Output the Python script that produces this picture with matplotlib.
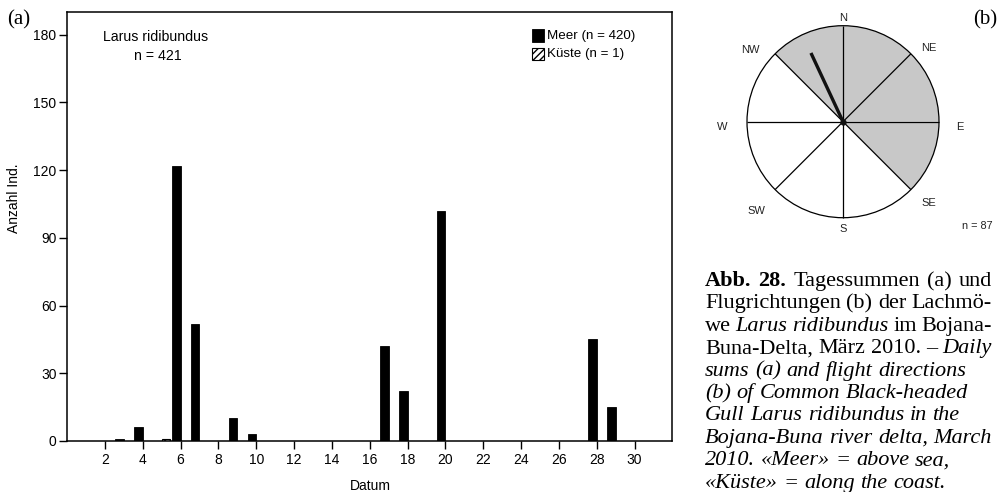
import numpy as np
import matplotlib
matplotlib.use('Agg')
import matplotlib.pyplot as plt
from matplotlib.patches import Rectangle, Wedge, Circle

W, H = 1004, 492

# ---- data (a) ----
days_meer = [3, 4, 6, 7, 9, 10, 17, 18, 20, 28, 29]
count_meer = [1, 6, 122, 52, 10, 3, 42, 22, 102, 45, 15]
days_kueste = [5]
count_kueste = [1]
xticks = list(range(2, 31, 2))
yticks = [0, 30, 60, 90, 120, 150, 180]
legend_labels = ['Meer (n = 420)', 'Küste (n = 1)']

# ---- data (b) ----
sector_labels = ['N', 'NE', 'E', 'SE', 'S', 'SW', 'W', 'NW']
sector_start = [0, 45, 90, 135, 180, 225, 270, 315]     # bearing (deg)
sector_shaded = [True, True, True, False, False, False, False, True]
mean_bearing = 335
mean_length = 0.79
n_dir = 87

SANS = 'Liberation Sans'
SERIF = 'Liberation Serif'

fig = plt.figure(figsize=(W / 100, H / 100), dpi=100)


def fx(px):
    return px / W


def fy(py):
    return 1 - py / H


# ================= panel (a) =================
ax = fig.add_axes([fx(67), fy(441), fx(672.5) - fx(67), fy(12) - fy(441)])
bw = 0.45
ax.bar(np.array(days_meer) - bw / 2, count_meer, width=bw, color='black',
       edgecolor='black', linewidth=0.6)
ax.bar(np.array(days_kueste) + bw / 2, count_kueste, width=bw, color='white',
       edgecolor='black', linewidth=0.8, hatch='//////')
ax.set_xlim(0, 32)
ax.set_ylim(0, 190)
ax.set_xticks(xticks)
ax.set_xticklabels([str(t) for t in xticks])
ax.set_yticks(yticks)
ax.set_yticklabels([str(t) for t in yticks])
ax.tick_params(axis='both', direction='out', length=6, width=1.0,
               labelsize=10, pad=1.5, colors='black')
ax.tick_params(axis='x', pad=2.5)
for lab in ax.get_xticklabels() + ax.get_yticklabels():
    lab.set_family(SANS)
for s in ax.spines.values():
    s.set_linewidth(1.1)

fig.text(fx(14), fy(198), 'Anzahl Ind.', rotation=90, ha='center',
         va='center', family=SANS, fontsize=10)
fig.text(fx(370), fy(486), 'Datum', ha='center', va='center', family=SANS,
         fontsize=10)
fig.text(fx(156), fy(37), 'Larus ridibundus', ha='center', va='center',
         family=SANS, fontsize=10.2)
fig.text(fx(158), fy(55.7), 'n = 421', ha='center', va='center',
         family=SANS, fontsize=10.2)

# legend (manual)
sq = 12
fig.patches.append(Rectangle((fx(532), fy(41.5)), sq / W, sq / H,
                             transform=fig.transFigure, facecolor='black',
                             edgecolor='black', linewidth=0.6))
fig.patches.append(Rectangle((fx(532), fy(60)), sq / W, sq / H,
                             transform=fig.transFigure, facecolor='white',
                             edgecolor='black', linewidth=0.8,
                             hatch='/////'))
fig.text(fx(547), fy(35.5), legend_labels[0], ha='left', va='center',
         family=SANS, fontsize=9.6)
fig.text(fx(547), fy(54.3), legend_labels[1], ha='left', va='center',
         family=SANS, fontsize=9.6)

fig.text(fx(7), fy(24), '(a)', ha='left', va='baseline', family=SERIF,
         fontsize=15)

# ================= panel (b) =================
cx, cy, R = 843, 121.7, 96
half = 130
axr = fig.add_axes([fx(cx - half), fy(cy + half), 2 * half / W, 2 * half / H])
L = half / R
axr.set_xlim(-L, L)
axr.set_ylim(-L, L)
axr.set_aspect('equal')
axr.axis('off')

for s, shaded in zip(sector_start, sector_shaded):
    th1 = 90 - s - 45
    th2 = 90 - s
    axr.add_patch(Wedge((0, 0), 1.0, th1, th2,
                        facecolor='#c8c8c8' if shaded else 'white',
                        edgecolor='none'))
for s in sector_start:
    a = np.deg2rad(90 - s)
    axr.plot([0, np.cos(a)], [0, np.sin(a)], color='black', lw=0.9,
             solid_capstyle='butt')
axr.add_patch(Circle((0, 0), 1.0, facecolor='none', edgecolor='black',
                     lw=0.9))
a = np.deg2rad(90 - mean_bearing)
axr.plot([0, mean_length * np.cos(a)], [0, mean_length * np.sin(a)],
         color='#111111', lw=2.4, solid_capstyle='butt')
axr.plot([0], [0], marker='o', ms=3.5, color='#111111')

label_pos = {'N': (0, 1.077), 'NE': (0.889, 0.771), 'E': (1.222, -0.052),
             'SE': (0.899, -0.847), 'S': (0, -1.118), 'SW': (-0.902, -0.927),
             'W': (-1.256, -0.058), 'NW': (-0.961, 0.747)}
for lab in sector_labels:
    px, py = label_pos[lab]
    axr.text(px, py, lab, ha='center', va='center', family=SANS,
             fontsize=8, color='#222222', clip_on=False)

fig.text(fx(977), fy(226), 'n = %d' % n_dir, ha='center', va='center',
         family=SANS, fontsize=7.8, color='#222222')
fig.text(fx(997), fy(24), '(b)', ha='right', va='baseline', family=SERIF,
         fontsize=15)

# ================= caption =================
renderer = fig.canvas.get_renderer()
CAP = 16


def mk(txt, st, x, base):
    return fig.text(fx(x), fy(base), txt, family=SERIF, fontsize=CAP,
                    fontstyle='italic' if st == 'i' else 'normal',
                    fontweight='bold' if st == 'b' else 'normal',
                    va='baseline', ha='left')


tmp1 = mk('a a', 'r', 0, 0)
tmp2 = mk('aa', 'r', 0, 0)
space = (tmp1.get_window_extent(renderer).width -
         tmp2.get_window_extent(renderer).width)
tmp1.remove()
tmp2.remove()

caption = [
    ([('Abb.', 'b'), ('28.', 'b'), ('Tagessummen', 'r'), ('(a)', 'r'),
      ('und', 'r')], True),
    ([('Flugrichtungen', 'r'), ('(b)', 'r'), ('der', 'r'),
      ('Lachmö-', 'r')], True),
    ([('we', 'r'), ('Larus', 'i'), ('ridibundus', 'i'), ('im', 'r'),
      ('Bojana-', 'r')], True),
    ([('Buna-Delta,', 'r'), ('März', 'r'), ('2010.', 'r'), ('–', 'r'),
      ('Daily', 'i')], True),
    ([(w, 'i') for w in 'sums (a) and flight directions'.split()], False),
    ([(w, 'i') for w in '(b) of Common Black-headed'.split()], False),
    ([(w, 'i') for w in 'Gull Larus ridibundus in the'.split()], False),
    ([(w, 'i') for w in 'Bojana-Buna river delta, March'.split()], False),
    ([(w, 'i') for w in '2010. «Meer» = above sea,'.split()], False),
    ([(w, 'i') for w in '«Küste» = along the coast.'.split()], False),
]
x0, x1 = 705, 992
base0, lstep = 286, 22.4
for k, (words, just) in enumerate(caption):
    base = base0 + k * lstep
    arts = [mk(t, st, x0, base) for t, st in words]
    widths = [a.get_window_extent(renderer).width for a in arts]
    gap = space
    if just and len(arts) > 1:
        gap = max(space * 0.8, (x1 - x0 - sum(widths)) / (len(arts) - 1))
    x = x0
    for a, w in zip(arts, widths):
        a.set_x(fx(x))
        x += w + gap

fig.savefig('out.png', dpi=100)
